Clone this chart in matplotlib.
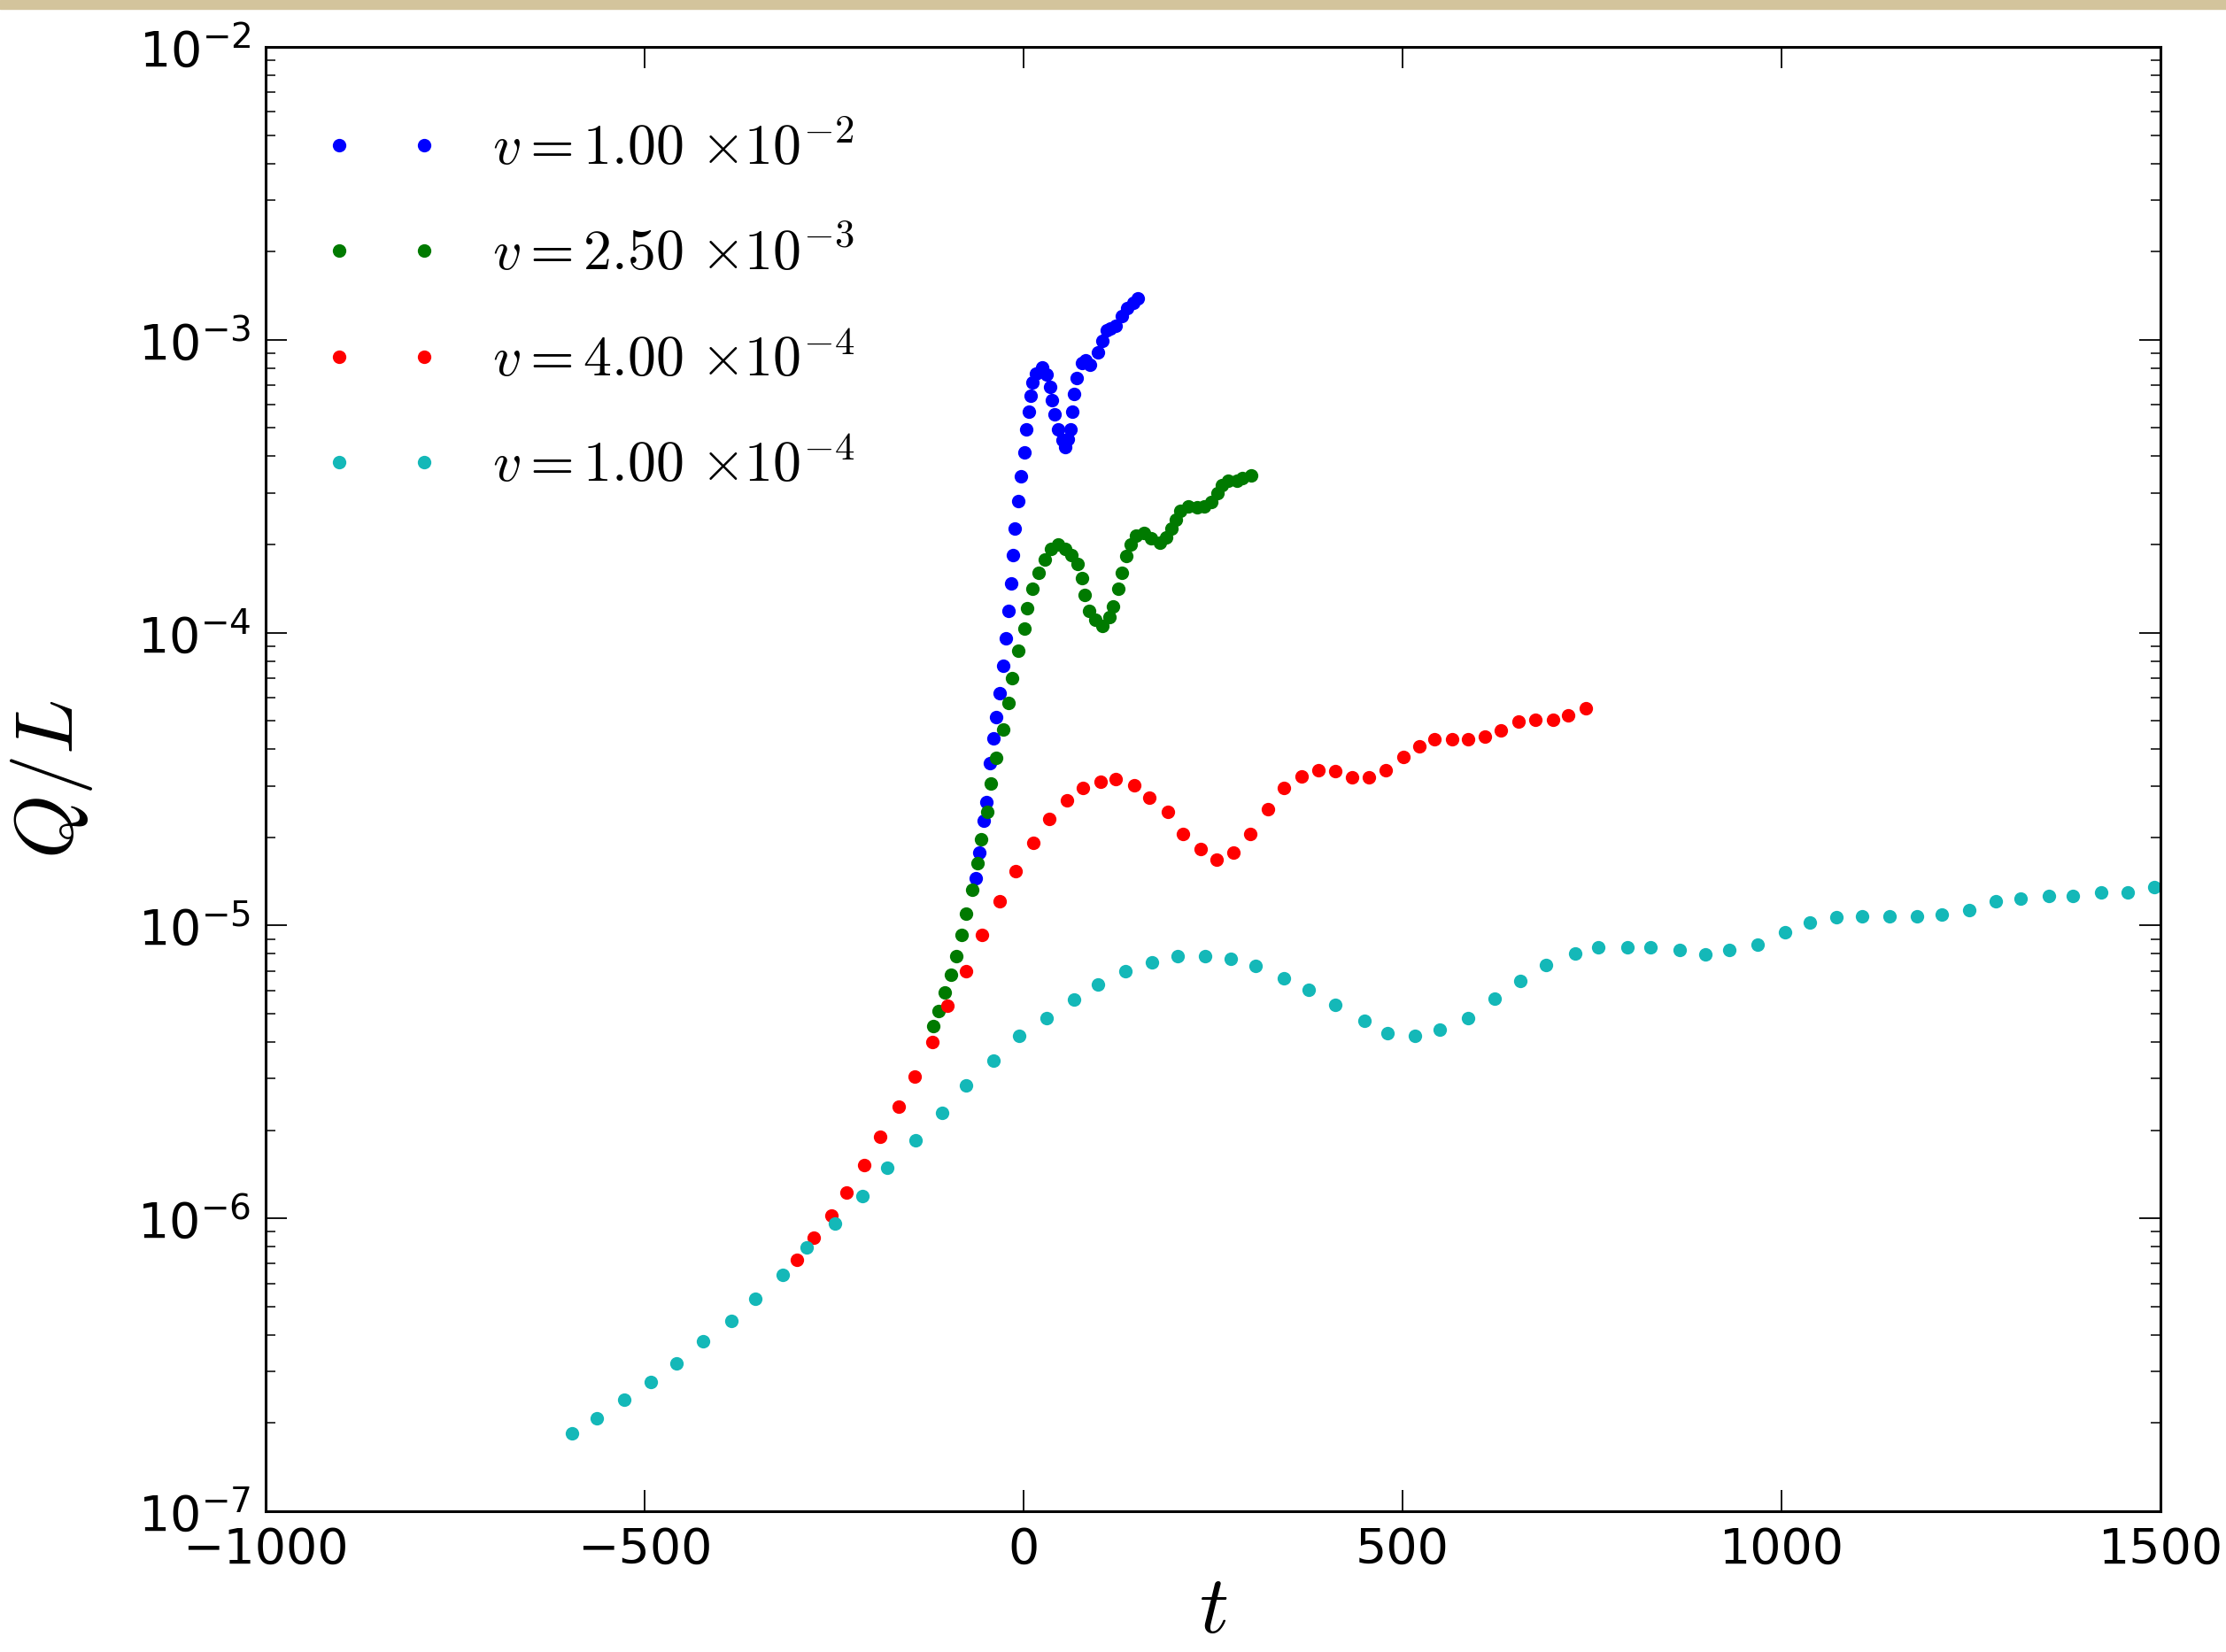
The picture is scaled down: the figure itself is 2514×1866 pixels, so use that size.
import matplotlib
matplotlib.use('Agg')
import matplotlib.pyplot as plt
import numpy as np
from matplotlib.patches import Rectangle
from matplotlib.ticker import LogLocator, LogFormatterSciNotation, NullFormatter

plt.rcParams['mathtext.fontset'] = 'cm'
plt.rcParams['font.family'] = ['DejaVu Sans']

# legend labels and colours (classic b, g, r, c)
labels = [r'$v=1.00\ {\times}10^{-2}$', r'$v=2.50\ {\times}10^{-3}$',
          r'$v=4.00\ {\times}10^{-4}$', r'$v=1.00\ {\times}10^{-4}$']
colors = ['#0000ff', '#007a00', '#ff0000', '#14b8b8']

# v = 1e-2 (values read as log10 Q/L)
t_a = [-62.5, -58.4, -52.9, -49.0, -44.0, -40.1, -36.2, -31.2, -27.3, -23.4,
       -19.5, -16.8, -14.2, -11.3, -7.0, -3.2, 0.8, 3.8, 6.5, 9.0,
       11.7, 16.3, 24.2, 30.0, 35.0, 37.7, 40.9, 45.5, 51.4, 54.5,
       58.5, 62.0, 64.0, 66.2, 70.1, 76.7, 81.5, 88.0, 98.1, 104.0,
       109.8, 115.0, 121.5, 129.3, 137.0, 144.8, 150.7]
log_q_a = [-4.84, -4.752, -4.641, -4.579, -4.447, -4.360, -4.289, -4.206, -4.112, -4.018,
           -3.926, -3.833, -3.734, -3.646, -3.550, -3.467, -3.384, -3.306, -3.245, -3.190,
           -3.145, -3.115, -3.094, -3.119, -3.160, -3.205, -3.256, -3.306, -3.341, -3.366,
           -3.340, -3.306, -3.245, -3.185, -3.130, -3.079, -3.070, -3.085, -3.044, -3.004,
           -2.968, -2.960, -2.953, -2.918, -2.893, -2.873, -2.858]

# v = 2.5e-3
t_b = [-119.1, -112.4, -104.4, -95.7, -89.0, -82.3, -75.5, -68.0, -60.8, -55.7,
       -47.9, -42.8, -36.2, -27.3, -19.5, -14.8, -7.0, 0.8, 5.0, 11.7,
       19.5, 28.0, 35.8, 45.5, 55.2, 63.0, 70.9, 76.7, 80.6, 86.4,
       95.0, 104.0, 113.7, 118.4, 125.4, 129.3, 135.2, 141.0, 148.7, 158.5,
       168.2, 179.9, 187.7, 195.4, 201.3, 207.1, 216.9, 228.6, 238.3, 248.0,
       255.8, 261.7, 269.5, 281.2, 288.9, 300.6]
log_q_b = [-5.342, -5.292, -5.230, -5.167, -5.106, -5.032, -4.960, -4.877, -4.787, -4.707,
           -4.611, -4.515, -4.427, -4.331, -4.240, -4.154, -4.062, -3.986, -3.916, -3.850,
           -3.795, -3.749, -3.714, -3.699, -3.714, -3.734, -3.765, -3.815, -3.870, -3.926,
           -3.956, -3.976, -3.946, -3.911, -3.850, -3.795, -3.739, -3.699, -3.669, -3.659,
           -3.679, -3.694, -3.674, -3.644, -3.613, -3.583, -3.568, -3.573, -3.568, -3.553,
           -3.523, -3.497, -3.482, -3.482, -3.472, -3.462]

# v = 4e-4
t_c = [-298.5, -277.0, -253.4, -233.3, -209.8, -189.6, -164.8, -143.9, -120.4, -100.4,
       -75.5, -55.4, -31.2, -10.9, 13.2, 33.9, 57.2, 77.9, 101.3, 121.5,
       146.0, 166.2, 190.4, 209.9, 233.6, 254.6, 277.2, 298.7, 322.8, 343.4,
       366.8, 388.9, 411.4, 433.0, 455.5, 477.9, 501.1, 521.8, 542.6, 565.9,
       585.9, 609.1, 629.9, 653.3, 675.7, 698.1, 718.9, 742.2]
log_q_c = [-6.140, -6.065, -5.991, -5.913, -5.818, -5.721, -5.619, -5.515, -5.399, -5.275,
           -5.157, -5.032, -4.918, -4.814, -4.719, -4.636, -4.573, -4.530, -4.510, -4.500,
           -4.520, -4.563, -4.611, -4.688, -4.740, -4.774, -4.750, -4.688, -4.604, -4.530,
           -4.490, -4.470, -4.472, -4.495, -4.495, -4.470, -4.424, -4.389, -4.364, -4.364,
           -4.364, -4.354, -4.334, -4.303, -4.298, -4.298, -4.283, -4.258]

# v = 1e-4
t_d = [-595.8, -563.6, -527.3, -491.7, -458.2, -422.6, -385.6, -354.1, -317.2, -285.6,
       -248.7, -213.1, -179.6, -142.6, -107.0, -75.5, -40.0, -6.4, 29.9, 66.8,
       97.6, 134.7, 169.5, 203.1, 240.0, 273.6, 305.8, 343.0, 376.5, 411.4,
       449.7, 480.4, 516.1, 549.3, 585.9, 621.6, 654.9, 689.7, 727.2, 758.7,
       796.1, 826.9, 865.1, 900.0, 931.6, 968.2, 1004.8, 1037.1, 1072.8, 1106.1,
       1142.7, 1178.4, 1211.6, 1247.4, 1282.3, 1315.5, 1352.9, 1384.5, 1421.9, 1456.8,
       1492.0]
log_q_d = [-6.734, -6.684, -6.619, -6.559, -6.495, -6.421, -6.349, -6.275, -6.194, -6.099,
           -6.018, -5.924, -5.826, -5.734, -5.640, -5.545, -5.461, -5.376, -5.315, -5.252,
           -5.201, -5.157, -5.126, -5.106, -5.106, -5.114, -5.137, -5.180, -5.220, -5.271,
           -5.326, -5.367, -5.377, -5.356, -5.316, -5.251, -5.190, -5.135, -5.095, -5.074,
           -5.074, -5.074, -5.084, -5.099, -5.084, -5.064, -5.024, -4.989, -4.972, -4.969,
           -4.969, -4.969, -4.962, -4.948, -4.918, -4.908, -4.898, -4.898, -4.888, -4.888,
           -4.868]

x_ticks = [-1000, -500, 0, 500, 1000, 1500]

fig = plt.figure(figsize=(25.14, 18.66), dpi=100)
ax = fig.add_axes([0.1193, 0.0852, 0.8513, 0.8864])

series = [(t_a, log_q_a), (t_b, log_q_b), (t_c, log_q_c), (t_d, log_q_d)]
for (t, lq), col, lab in zip(series, colors, labels):
    ax.plot(t, 10.0 ** np.array(lq), 'o', color=col, ms=11, mew=0, label=lab)

ax.set_yscale('log')
ax.set_xlim(-1000, 1500)
ax.set_ylim(1e-7, 1e-2)
ax.set_xticks(x_ticks)
ax.yaxis.set_major_locator(LogLocator(base=10))
ax.yaxis.set_major_formatter(LogFormatterSciNotation())
ax.yaxis.set_minor_locator(LogLocator(base=10, subs=np.arange(2, 10)))
ax.yaxis.set_minor_formatter(NullFormatter())

ax.tick_params(which='both', direction='in', top=True, right=True)
ax.tick_params(which='major', length=17, width=1.3, labelsize=40, pad=12)
ax.tick_params(which='minor', length=8, width=1.1)
for s in ax.spines.values():
    s.set_linewidth(2.2)

ax.set_xlabel(r'$t$', fontsize=66)
ax.set_ylabel(r'$Q/L$', fontsize=66)
ax.xaxis.set_label_coords(0.5, -0.04)
ax.yaxis.set_label_coords(-0.09, 0.5)

ax.legend(loc='upper left', bbox_to_anchor=(0.003, 0.984), numpoints=2,
          frameon=False, fontsize=46, handlelength=2.1, handletextpad=0.9,
          labelspacing=0.9, borderaxespad=0.4, borderpad=0.5)

# thin tan strip along the top edge of the picture
fig.patches.append(Rectangle((0, 1 - 10 / 1866), 1, 10 / 1866,
                             transform=fig.transFigure, color='#d3c49c'))

fig.savefig('out.png', dpi=100)
